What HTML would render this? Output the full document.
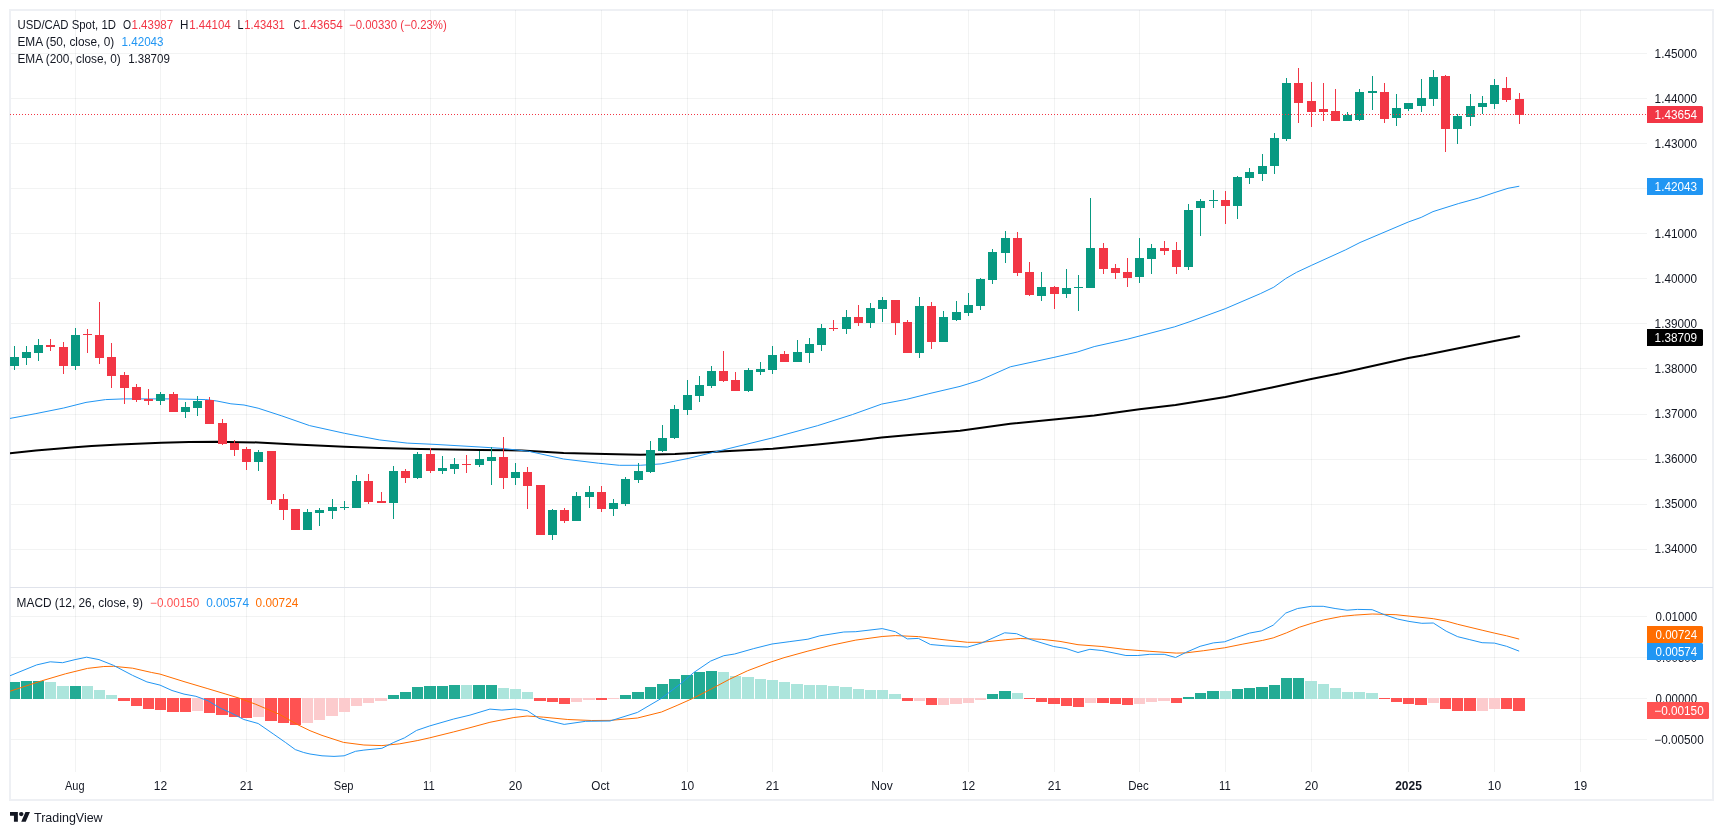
<!DOCTYPE html><html><head><meta charset="utf-8"><title>USD/CAD Spot, 1D</title><style>html,body{margin:0;padding:0;background:#fff;}svg{display:block;}text{font-family:'Liberation Sans', Arial, sans-serif;}</style></head><body>
<svg width="1723" height="835" viewBox="0 0 1723 835" shape-rendering="crispEdges" style="will-change:transform">
<rect x="0" y="0" width="1723" height="835" fill="#fff"/>
<rect x="10" y="10" width="1703" height="790" fill="none" stroke="#EEF0F4" stroke-width="2"/>
<defs><clipPath id="cm"><rect x="10" y="10" width="1637" height="577"/></clipPath><clipPath id="cd"><rect x="10" y="588" width="1637" height="184"/></clipPath></defs>
<path d="M11 53h1636v1h-1636zM11 98h1636v1h-1636zM11 143h1636v1h-1636zM11 188h1636v1h-1636zM11 233h1636v1h-1636zM11 278h1636v1h-1636zM11 323h1636v1h-1636zM11 368h1636v1h-1636zM11 414h1636v1h-1636zM11 459h1636v1h-1636zM11 504h1636v1h-1636zM11 549h1636v1h-1636zM11 616h1636v1h-1636zM11 657h1636v1h-1636zM11 698h1636v1h-1636zM11 739h1636v1h-1636z" fill="rgba(42,46,57,0.06)"/>
<path d="M75 10h1v577h-1zM75 588h1v184h-1zM160 10h1v577h-1zM160 588h1v184h-1zM246 10h1v577h-1zM246 588h1v184h-1zM344 10h1v577h-1zM344 588h1v184h-1zM430 10h1v577h-1zM430 588h1v184h-1zM515 10h1v577h-1zM515 588h1v184h-1zM601 10h1v577h-1zM601 588h1v184h-1zM687 10h1v577h-1zM687 588h1v184h-1zM772 10h1v577h-1zM772 588h1v184h-1zM882 10h1v577h-1zM882 588h1v184h-1zM968 10h1v577h-1zM968 588h1v184h-1zM1054 10h1v577h-1zM1054 588h1v184h-1zM1139 10h1v577h-1zM1139 588h1v184h-1zM1225 10h1v577h-1zM1225 588h1v184h-1zM1311 10h1v577h-1zM1311 588h1v184h-1zM1408 10h1v577h-1zM1408 588h1v184h-1zM1494 10h1v577h-1zM1494 588h1v184h-1zM1580 10h1v577h-1zM1580 588h1v184h-1z" fill="rgba(42,46,57,0.06)"/>
<rect x="10" y="587" width="1703" height="1" fill="#E0E3EB"/>
<g clip-path="url(#cm)">
<path d="M10.1 453.3 L35.9 450.5 L74.9 447.3 L91.6 446.0 L119.4 444.6 L161.2 442.8 L189.1 442.1 L216.9 441.8 L240.0 442.2 L258.1 442.4 L295.7 444.4 L344.5 446.8 L379.3 447.9 L421.1 448.9 L480.0 449.9 L521.8 450.4 L563.6 453.0 L605.4 454.1 L640.2 454.8 L675.0 454.1 L720.0 451.6 L772.9 448.7 L817.5 444.5 L859.3 440.3 L881.6 437.6 L915.0 434.4 L960.0 430.7 L1010.3 423.8 L1053.9 419.4 L1094.2 415.4 L1139.5 409.3 L1150.0 407.9 L1175.5 405.0 L1225.4 396.9 L1271.9 387.6 L1311.3 378.9 L1340.0 373.3 L1408.4 358.0 L1423.8 355.3 L1494.4 341.0 L1519.2 336.2" fill="none" stroke="#000" stroke-width="2" stroke-linejoin="round" stroke-linecap="round" shape-rendering="geometricPrecision"/>
<path d="M10.1 418.4 L35.9 413.6 L63.7 408.0 L86.0 402.4 L105.5 399.6 L123.6 398.9 L147.3 398.9 L175.2 398.9 L205.8 399.6 L216.9 401.0 L230.9 403.8 L244.0 405.0 L258.1 408.2 L281.8 415.9 L309.6 425.6 L344.5 433.3 L379.3 439.9 L407.2 443.1 L435.0 444.4 L480.0 447.0 L500.9 448.3 L528.8 451.3 L563.6 459.0 L598.4 463.2 L619.3 465.3 L640.2 465.3 L661.1 463.9 L688.9 458.3 L720.0 450.7 L772.9 437.8 L817.5 425.7 L852.3 414.6 L881.6 404.1 L906.7 399.3 L928.9 393.7 L960.0 386.4 L980.1 380.2 L1010.3 366.8 L1053.9 357.4 L1077.4 352.0 L1094.2 346.6 L1127.7 339.1 L1174.7 326.8 L1190.0 321.6 L1225.3 308.7 L1260.7 293.5 L1273.8 287.2 L1285.8 278.5 L1296.6 272.3 L1311.6 265.3 L1345.7 249.8 L1360.0 242.5 L1408.3 222.0 L1421.2 217.4 L1433.0 211.6 L1458.7 203.5 L1478.4 198.1 L1494.2 192.7 L1508.0 188.3 L1518.9 186.3" fill="none" stroke="#2196F3" stroke-width="1" stroke-linejoin="round" stroke-linecap="round" shape-rendering="geometricPrecision"/>
<path d="M10 357h9v9h-9zM14 346h1v11h-1zM14 366h1v4h-1zM22 352h9v6h-9zM26 346h1v6h-1zM26 358h1v7h-1zM34 345h9v8h-9zM38 339h1v6h-1zM38 353h1v8h-1zM71 335h9v31h-9zM75 328h1v7h-1zM75 366h1v4h-1zM156 394h9v7h-9zM160 392h1v2h-1zM160 401h1v4h-1zM181 407h9v5h-9zM185 402h1v5h-1zM185 412h1v6h-1zM193 401h9v7h-9zM197 396h1v5h-1zM197 408h1v8h-1zM254 452h9v10h-9zM258 450h1v2h-1zM258 462h1v9h-1zM303 512h9v18h-9zM307 509h1v3h-1zM315 510h9v3h-9zM319 508h1v2h-1zM319 513h1v13h-1zM328 507h9v4h-9zM332 499h1v8h-1zM332 511h1v8h-1zM340 507h9v1h-9zM344 501h1v6h-1zM344 508h1v2h-1zM352 481h9v27h-9zM356 475h1v6h-1zM389 471h9v32h-9zM393 466h1v5h-1zM393 503h1v16h-1zM413 454h9v24h-9zM417 452h1v2h-1zM417 478h1v1h-1zM438 468h9v3h-9zM442 456h1v12h-1zM442 471h1v3h-1zM450 464h9v5h-9zM454 458h1v6h-1zM454 469h1v5h-1zM475 459h9v6h-9zM479 451h1v8h-1zM479 465h1v2h-1zM487 457h9v4h-9zM491 447h1v10h-1zM491 461h1v24h-1zM511 472h9v6h-9zM515 463h1v9h-1zM515 478h1v7h-1zM548 510h9v25h-9zM552 509h1v1h-1zM552 535h1v5h-1zM572 496h9v25h-9zM576 492h1v4h-1zM585 492h9v5h-9zM589 486h1v6h-1zM589 497h1v11h-1zM609 503h9v6h-9zM613 499h1v4h-1zM613 509h1v7h-1zM621 479h9v25h-9zM625 477h1v2h-1zM625 504h1v2h-1zM634 471h9v9h-9zM638 463h1v8h-1zM638 480h1v3h-1zM646 450h9v22h-9zM650 441h1v9h-1zM650 472h1v1h-1zM658 438h9v13h-9zM662 425h1v13h-1zM662 451h1v1h-1zM670 409h9v29h-9zM674 405h1v4h-1zM674 438h1v1h-1zM683 395h9v15h-9zM687 380h1v15h-1zM687 410h1v5h-1zM695 385h9v11h-9zM699 376h1v9h-1zM699 396h1v6h-1zM707 371h9v15h-9zM711 366h1v5h-1zM711 386h1v2h-1zM744 370h9v21h-9zM748 368h1v2h-1zM748 391h1v1h-1zM756 369h9v3h-9zM760 362h1v7h-1zM760 372h1v3h-1zM768 355h9v15h-9zM772 346h1v9h-1zM772 370h1v4h-1zM793 352h9v10h-9zM797 340h1v12h-1zM805 344h9v9h-9zM809 338h1v6h-1zM809 353h1v10h-1zM817 328h9v17h-9zM821 324h1v4h-1zM821 345h1v6h-1zM842 317h9v12h-9zM846 310h1v7h-1zM846 329h1v5h-1zM866 308h9v15h-9zM870 303h1v5h-1zM870 323h1v5h-1zM878 300h9v9h-9zM882 297h1v3h-1zM882 309h1v13h-1zM915 306h9v47h-9zM919 297h1v9h-1zM919 353h1v5h-1zM939 317h9v25h-9zM943 311h1v6h-1zM952 312h9v8h-9zM956 301h1v11h-1zM956 320h1v1h-1zM964 305h9v8h-9zM968 293h1v12h-1zM968 313h1v3h-1zM976 279h9v27h-9zM980 278h1v1h-1zM980 306h1v4h-1zM988 252h9v28h-9zM992 249h1v3h-1zM992 280h1v4h-1zM1001 238h9v15h-9zM1005 231h1v7h-1zM1005 253h1v10h-1zM1037 287h9v9h-9zM1041 272h1v15h-1zM1041 296h1v5h-1zM1062 288h9v6h-9zM1066 269h1v19h-1zM1066 294h1v4h-1zM1074 287h9v1h-9zM1078 275h1v12h-1zM1078 288h1v23h-1zM1086 248h9v40h-9zM1090 198h1v50h-1zM1135 258h9v19h-9zM1139 238h1v20h-1zM1139 277h1v6h-1zM1147 248h9v11h-9zM1151 244h1v4h-1zM1151 259h1v15h-1zM1184 210h9v57h-9zM1188 204h1v6h-1zM1188 267h1v3h-1zM1196 201h9v7h-9zM1200 199h1v2h-1zM1200 208h1v28h-1zM1209 200h9v1h-9zM1213 190h1v10h-1zM1213 201h1v7h-1zM1233 177h9v29h-9zM1237 176h1v1h-1zM1237 206h1v13h-1zM1245 172h9v6h-9zM1249 168h1v4h-1zM1249 178h1v6h-1zM1258 166h9v8h-9zM1262 154h1v12h-1zM1262 174h1v7h-1zM1270 138h9v28h-9zM1274 133h1v5h-1zM1274 166h1v8h-1zM1282 83h9v56h-9zM1286 78h1v5h-1zM1286 139h1v2h-1zM1343 115h9v6h-9zM1347 112h1v3h-1zM1355 92h9v28h-9zM1359 89h1v3h-1zM1359 120h1v1h-1zM1368 91h9v2h-9zM1372 76h1v15h-1zM1372 93h1v17h-1zM1392 108h9v10h-9zM1396 94h1v14h-1zM1396 118h1v8h-1zM1404 103h9v6h-9zM1408 109h1v2h-1zM1417 98h9v8h-9zM1421 79h1v19h-1zM1421 106h1v6h-1zM1429 77h9v22h-9zM1433 70h1v7h-1zM1433 99h1v7h-1zM1453 116h9v13h-9zM1457 114h1v2h-1zM1457 129h1v15h-1zM1466 106h9v11h-9zM1470 94h1v12h-1zM1470 117h1v9h-1zM1478 103h9v4h-9zM1482 96h1v7h-1zM1482 107h1v7h-1zM1490 85h9v19h-9zM1494 79h1v6h-1zM1494 104h1v5h-1z" fill="#089981"/>
<path d="M46 345h9v2h-9zM50 339h1v6h-1zM50 347h1v4h-1zM59 347h9v19h-9zM63 342h1v5h-1zM63 366h1v8h-1zM83 334h9v1h-9zM87 329h1v5h-1zM87 335h1v18h-1zM95 335h9v23h-9zM99 302h1v33h-1zM99 358h1v6h-1zM107 357h9v19h-9zM111 343h1v14h-1zM111 376h1v12h-1zM120 375h9v13h-9zM124 372h1v3h-1zM124 388h1v16h-1zM132 387h9v13h-9zM136 384h1v3h-1zM136 400h1v2h-1zM144 399h9v2h-9zM148 389h1v10h-1zM148 401h1v4h-1zM169 394h9v18h-9zM173 392h1v2h-1zM205 400h9v24h-9zM209 397h1v3h-1zM218 423h9v21h-9zM222 419h1v4h-1zM222 444h1v1h-1zM230 443h9v7h-9zM234 440h1v3h-1zM234 450h1v6h-1zM242 449h9v13h-9zM246 447h1v2h-1zM246 462h1v8h-1zM267 451h9v49h-9zM271 500h1v4h-1zM279 499h9v11h-9zM283 494h1v5h-1zM283 510h1v10h-1zM291 509h9v21h-9zM364 481h9v21h-9zM368 474h1v7h-1zM368 502h1v2h-1zM377 501h9v2h-9zM381 492h1v9h-1zM401 471h9v7h-9zM405 469h1v2h-1zM405 478h1v5h-1zM426 454h9v17h-9zM430 448h1v6h-1zM430 471h1v2h-1zM462 464h9v1h-9zM466 455h1v9h-1zM466 465h1v8h-1zM499 457h9v21h-9zM503 437h1v20h-1zM503 478h1v11h-1zM523 472h9v14h-9zM527 467h1v5h-1zM527 486h1v23h-1zM536 485h9v50h-9zM560 510h9v11h-9zM564 508h1v2h-1zM564 521h1v2h-1zM597 492h9v17h-9zM601 486h1v6h-1zM601 509h1v3h-1zM719 371h9v10h-9zM723 351h1v20h-1zM723 381h1v1h-1zM731 380h9v11h-9zM735 372h1v8h-1zM780 354h9v8h-9zM784 351h1v3h-1zM829 328h9v1h-9zM833 320h1v8h-1zM833 329h1v2h-1zM854 317h9v6h-9zM858 305h1v12h-1zM858 323h1v3h-1zM891 300h9v23h-9zM895 323h1v12h-1zM903 322h9v31h-9zM907 320h1v2h-1zM927 306h9v36h-9zM931 302h1v4h-1zM931 342h1v7h-1zM1013 238h9v35h-9zM1017 232h1v6h-1zM1017 273h1v3h-1zM1025 272h9v23h-9zM1029 262h1v10h-1zM1029 295h1v1h-1zM1050 287h9v7h-9zM1054 286h1v1h-1zM1054 294h1v15h-1zM1099 248h9v21h-9zM1103 243h1v5h-1zM1103 269h1v5h-1zM1111 268h9v5h-9zM1115 264h1v4h-1zM1115 273h1v6h-1zM1123 272h9v6h-9zM1127 258h1v14h-1zM1127 278h1v9h-1zM1160 248h9v3h-9zM1164 241h1v7h-1zM1164 251h1v4h-1zM1172 250h9v17h-9zM1176 242h1v8h-1zM1176 267h1v7h-1zM1221 200h9v6h-9zM1225 191h1v9h-1zM1225 206h1v18h-1zM1294 83h9v20h-9zM1298 68h1v15h-1zM1298 103h1v20h-1zM1307 101h9v11h-9zM1311 82h1v19h-1zM1311 112h1v15h-1zM1319 109h9v3h-9zM1323 83h1v26h-1zM1323 112h1v9h-1zM1331 111h9v10h-9zM1335 89h1v22h-1zM1380 92h9v27h-9zM1384 83h1v9h-1zM1384 119h1v4h-1zM1441 76h9v53h-9zM1445 75h1v1h-1zM1445 129h1v23h-1zM1502 88h9v12h-9zM1506 77h1v11h-1zM1506 100h1v2h-1zM1515 99h9v16h-9zM1519 93h1v6h-1zM1519 115h1v9h-1z" fill="#F23645"/>
<path d="M10 114.5H1647" stroke="#F23645" stroke-width="1" stroke-dasharray="1 2" fill="none"/>
</g><g clip-path="url(#cd)">
<path d="M10 682H20V699H10zM21 681H32V699H21zM33 681H44V699H33zM70 686H81V699H70zM388 695H399V699H388zM400 692H411V699H400zM412 687H423V699H412zM424 686H436V699H424zM437 686H448V699H437zM449 685H460V699H449zM473 685H485V699H473zM486 685H497V699H486zM620 695H631V699H620zM632 692H644V699H632zM645 687H656V699H645zM657 684H668V699H657zM669 679H680V699H669zM681 675H693V699H681zM694 672H705V699H694zM706 671H717V699H706zM987 694H998V699H987zM999 691H1011V699H999zM1183 697H1194V699H1183zM1195 693H1206V699H1195zM1207 691H1219V699H1207zM1232 689H1243V699H1232zM1244 688H1255V699H1244zM1256 687H1268V699H1256zM1269 685H1280V699H1269zM1281 678H1292V699H1281zM1293 678H1304V699H1293z" fill="#22AB94"/>
<path d="M45 682H56V699H45zM57 686H69V699H57zM82 686H93V699H82zM94 690H105V699H94zM106 695H117V699H106zM461 685H472V699H461zM498 688H509V699H498zM510 689H521V699H510zM522 692H533V699H522zM718 672H729V699H718zM730 676H741V699H730zM742 677H754V699H742zM755 679H766V699H755zM767 680H778V699H767zM779 682H790V699H779zM791 684H803V699H791zM804 685H815V699H804zM816 685H827V699H816zM828 686H839V699H828zM840 687H852V699H840zM853 689H864V699H853zM865 690H876V699H865zM877 690H888V699H877zM889 694H901V699H889zM1012 693H1023V699H1012zM1220 691H1231V699H1220zM1305 681H1317V699H1305zM1318 684H1329V699H1318zM1330 688H1341V699H1330zM1342 692H1353V699H1342zM1354 692H1365V699H1354zM1366 693H1378V699H1366z" fill="#ACE5DC"/>
<path d="M118 698H130V701H118zM131 698H142V706H131zM143 698H154V709H143zM155 698H166V710H155zM167 698H179V712H167zM180 698H191V712H180zM204 698H215V713H204zM216 698H228V715H216zM229 698H240V717H229zM241 698H252V718H241zM265 698H277V721H265zM278 698H289V723H278zM290 698H301V725H290zM534 698H546V701H534zM547 698H558V702H547zM559 698H570V704H559zM596 698H607V700H596zM902 698H913V701H902zM926 698H937V705H926zM1024 698H1035V699H1024zM1036 698H1047V702H1036zM1048 698H1060V704H1048zM1061 698H1072V706H1061zM1073 698H1084V707H1073zM1097 698H1109V703H1097zM1110 698H1121V704H1110zM1122 698H1133V705H1122zM1171 698H1182V703H1171zM1379 698H1390V699H1379zM1391 698H1402V702H1391zM1403 698H1414V704H1403zM1415 698H1427V705H1415zM1440 698H1451V709H1440zM1452 698H1463V711H1452zM1464 698H1476V711H1464zM1501 698H1512V709H1501zM1513 698H1525V711H1513z" fill="#FF5252"/>
<path d="M192 698H203V711H192zM253 698H264V717H253zM302 698H313V723H302zM314 698H325V720H314zM326 698H338V716H326zM339 698H350V712H339zM351 698H362V706H351zM363 698H374V703H363zM375 698H387V701H375zM571 698H582V702H571zM583 698H595V700H583zM608 698H619V699H608zM914 698H925V701H914zM938 698H949V705H938zM950 698H962V704H950zM963 698H974V703H963zM975 698H986V700H975zM1085 698H1096V703H1085zM1134 698H1145V704H1134zM1146 698H1157V702H1146zM1158 698H1170V701H1158zM1428 698H1439V703H1428zM1477 698H1488V711H1477zM1489 698H1500V709H1489z" fill="#FCCBCD"/>
<path d="M10.1 691.2 L41.5 680.9 L65.5 673.8 L87.5 668.4 L103.8 666.5 L113.4 666.3 L132.6 668.2 L151.7 672.5 L160.0 674.1 L184.0 681.6 L207.9 688.7 L225.9 694.1 L239.0 698.1 L255.8 704.3 L279.8 714.5 L297.7 724.7 L310.0 730.7 L322.0 735.4 L343.5 742.4 L363.9 745.0 L381.9 745.6 L399.8 743.8 L417.8 740.5 L429.8 737.8 L453.7 731.9 L470.0 727.7 L489.9 722.3 L513.9 717.5 L527.1 716.0 L543.8 717.2 L567.8 719.5 L591.7 720.5 L610.0 720.4 L637.5 718.0 L661.5 712.0 L677.1 705.4 L692.6 698.5 L711.8 688.7 L729.8 679.1 L747.7 670.7 L770.0 662.3 L784.0 657.7 L807.9 651.1 L831.9 645.1 L855.8 640.1 L882.2 636.5 L895.3 635.6 L918.4 636.6 L939.9 639.3 L967.5 642.3 L981.9 642.3 L1005.8 639.7 L1020.2 638.5 L1041.7 639.3 L1060.0 641.4 L1078.0 644.7 L1101.9 646.5 L1125.9 649.5 L1149.8 651.3 L1176.2 653.1 L1185.7 652.9 L1203.7 650.7 L1224.5 647.8 L1242.9 644.1 L1262.7 640.4 L1273.2 637.9 L1286.4 632.9 L1299.5 627.2 L1311.4 623.4 L1323.2 620.0 L1341.7 616.4 L1354.8 615.1 L1372.2 614.0 L1395.9 614.7 L1408.9 616.1 L1433.3 618.7 L1446.2 621.1 L1457.7 624.3 L1482.1 630.2 L1494.4 633.1 L1506.6 635.8 L1518.8 639.0" fill="none" stroke="#FF6D00" stroke-width="1" stroke-linejoin="round" stroke-linecap="round" shape-rendering="geometricPrecision"/>
<path d="M10.1 675.7 L36.7 664.9 L50.2 661.8 L62.6 662.7 L75.1 659.6 L86.6 657.2 L99.0 659.6 L113.4 665.3 L132.6 675.4 L146.9 681.9 L160.0 685.1 L172.0 690.5 L184.0 694.1 L195.9 696.3 L207.9 700.7 L219.9 707.9 L231.9 713.3 L243.8 719.5 L258.2 723.5 L273.8 734.3 L285.7 742.6 L295.3 749.6 L303.7 752.5 L310.0 754.0 L322.0 755.8 L334.0 756.4 L344.1 755.8 L355.5 751.3 L363.9 750.1 L381.9 748.3 L393.8 742.4 L404.6 737.8 L416.6 730.4 L429.8 725.9 L453.7 719.0 L470.0 715.1 L489.9 709.1 L501.9 710.1 L515.1 709.1 L527.1 710.5 L539.0 718.4 L564.2 724.4 L585.7 721.3 L610.0 721.0 L637.5 712.4 L661.5 698.3 L681.9 682.7 L693.8 672.5 L710.6 661.1 L723.8 655.7 L734.6 654.0 L753.7 648.6 L772.0 644.0 L789.9 641.6 L807.9 639.2 L819.9 635.8 L843.8 632.0 L855.8 631.7 L882.2 628.6 L895.3 631.7 L907.3 638.9 L918.4 638.4 L930.4 644.5 L945.9 645.9 L967.5 647.1 L981.9 642.9 L1004.6 632.8 L1016.6 633.7 L1029.8 639.3 L1053.7 646.5 L1066.0 648.5 L1078.0 652.5 L1089.9 649.3 L1101.9 650.5 L1125.9 655.5 L1137.8 655.5 L1149.8 654.3 L1164.2 654.3 L1175.6 657.5 L1185.7 652.5 L1200.1 646.3 L1213.3 642.9 L1224.5 641.8 L1236.3 637.5 L1249.5 633.1 L1261.4 630.9 L1273.2 625.2 L1285.7 613.1 L1297.6 608.5 L1311.4 606.3 L1323.2 606.3 L1335.1 608.5 L1347.0 610.2 L1357.5 609.4 L1372.2 609.7 L1384.4 614.7 L1397.4 619.0 L1408.9 621.4 L1421.8 623.3 L1433.3 623.0 L1446.2 631.2 L1457.7 636.7 L1469.2 639.5 L1482.1 642.7 L1494.4 643.1 L1506.6 646.3 L1518.8 651.0" fill="none" stroke="#2196F3" stroke-width="1" stroke-linejoin="round" stroke-linecap="round" shape-rendering="geometricPrecision"/>
</g>
<g shape-rendering="geometricPrecision">
<text x="1654.62" y="58.0" fill="#131722" font-size="12" text-anchor="start"  textLength="42.46" lengthAdjust="spacingAndGlyphs">1.45000</text>
<text x="1654.62" y="103.0" fill="#131722" font-size="12" text-anchor="start"  textLength="42.46" lengthAdjust="spacingAndGlyphs">1.44000</text>
<text x="1654.62" y="148.0" fill="#131722" font-size="12" text-anchor="start"  textLength="42.46" lengthAdjust="spacingAndGlyphs">1.43000</text>
<text x="1654.62" y="193.0" fill="#131722" font-size="12" text-anchor="start"  textLength="42.46" lengthAdjust="spacingAndGlyphs">1.42000</text>
<text x="1654.62" y="238.0" fill="#131722" font-size="12" text-anchor="start"  textLength="42.46" lengthAdjust="spacingAndGlyphs">1.41000</text>
<text x="1654.62" y="283.0" fill="#131722" font-size="12" text-anchor="start"  textLength="42.46" lengthAdjust="spacingAndGlyphs">1.40000</text>
<text x="1654.62" y="328.0" fill="#131722" font-size="12" text-anchor="start"  textLength="42.46" lengthAdjust="spacingAndGlyphs">1.39000</text>
<text x="1654.62" y="373.0" fill="#131722" font-size="12" text-anchor="start"  textLength="42.46" lengthAdjust="spacingAndGlyphs">1.38000</text>
<text x="1654.62" y="418.0" fill="#131722" font-size="12" text-anchor="start"  textLength="42.46" lengthAdjust="spacingAndGlyphs">1.37000</text>
<text x="1654.62" y="463.0" fill="#131722" font-size="12" text-anchor="start"  textLength="42.46" lengthAdjust="spacingAndGlyphs">1.36000</text>
<text x="1654.62" y="508.0" fill="#131722" font-size="12" text-anchor="start"  textLength="42.46" lengthAdjust="spacingAndGlyphs">1.35000</text>
<text x="1654.62" y="553.0" fill="#131722" font-size="12" text-anchor="start"  textLength="42.46" lengthAdjust="spacingAndGlyphs">1.34000</text>
<text x="1655.60" y="621.1" fill="#131722" font-size="12" text-anchor="start"  textLength="41.47" lengthAdjust="spacingAndGlyphs">0.01000</text>
<text x="1655.60" y="662.0" fill="#131722" font-size="12" text-anchor="start"  textLength="41.47" lengthAdjust="spacingAndGlyphs">0.00500</text>
<text x="1655.60" y="702.9" fill="#131722" font-size="12" text-anchor="start"  textLength="41.47" lengthAdjust="spacingAndGlyphs">0.00000</text>
<text x="1654.32" y="743.9" fill="#131722" font-size="12" text-anchor="start"  textLength="49.36" lengthAdjust="spacingAndGlyphs">−0.00500</text>
<path d="M1647 106H1701.5Q1703 106 1703 107.5V121.5Q1703 123 1701.5 123H1647z" fill="#F23645"/>
<text x="1654.62" y="119.1" fill="#fff" font-size="12" text-anchor="start"  textLength="42.46" lengthAdjust="spacingAndGlyphs">1.43654</text>
<path d="M1647 178H1701.5Q1703 178 1703 179.5V193.5Q1703 195 1701.5 195H1647z" fill="#2196F3"/>
<text x="1654.62" y="191.1" fill="#fff" font-size="12" text-anchor="start"  textLength="42.46" lengthAdjust="spacingAndGlyphs">1.42043</text>
<path d="M1647 329H1701.5Q1703 329 1703 330.5V344.5Q1703 346 1701.5 346H1647z" fill="#000"/>
<text x="1654.62" y="342.1" fill="#fff" font-size="12" text-anchor="start"  textLength="42.46" lengthAdjust="spacingAndGlyphs">1.38709</text>
<path d="M1647 626H1701.5Q1703 626 1703 627.5V641.5Q1703 643 1701.5 643H1647z" fill="#FF6D00"/>
<text x="1655.60" y="639.1" fill="#fff" font-size="12" text-anchor="start"  textLength="41.47" lengthAdjust="spacingAndGlyphs">0.00724</text>
<path d="M1647 643H1701.5Q1703 643 1703 644.5V658.5Q1703 660 1701.5 660H1647z" fill="#2196F3"/>
<text x="1655.60" y="656.1" fill="#fff" font-size="12" text-anchor="start"  textLength="41.47" lengthAdjust="spacingAndGlyphs">0.00574</text>
<path d="M1647 702H1707.5Q1709 702 1709 703.5V717.5Q1709 719 1707.5 719H1647z" fill="#FF5252"/>
<text x="1654.32" y="715.1" fill="#fff" font-size="12" text-anchor="start"  textLength="49.36" lengthAdjust="spacingAndGlyphs">−0.00150</text>
<text x="17.45" y="29.0" fill="#131722" font-size="12" text-anchor="start"  textLength="98.49" lengthAdjust="spacingAndGlyphs">USD/CAD Spot, 1D</text>
<text x="123.10" y="29.0" fill="#131722" font-size="12" text-anchor="start"  textLength="8.10" lengthAdjust="spacingAndGlyphs">O</text>
<text x="131.54" y="29.0" fill="#F23645" font-size="12" text-anchor="start"  textLength="41.53" lengthAdjust="spacingAndGlyphs">1.43987</text>
<text x="180.03" y="29.0" fill="#131722" font-size="12" text-anchor="start"  textLength="8.42" lengthAdjust="spacingAndGlyphs">H</text>
<text x="189.24" y="29.0" fill="#F23645" font-size="12" text-anchor="start"  textLength="41.53" lengthAdjust="spacingAndGlyphs">1.44104</text>
<text x="237.40" y="29.0" fill="#131722" font-size="12" text-anchor="start"  textLength="6.02" lengthAdjust="spacingAndGlyphs">L</text>
<text x="244.37" y="29.0" fill="#F23645" font-size="12" text-anchor="start"  textLength="40.50" lengthAdjust="spacingAndGlyphs">1.43431</text>
<text x="293.40" y="29.0" fill="#131722" font-size="12" text-anchor="start"  textLength="6.94" lengthAdjust="spacingAndGlyphs">C</text>
<text x="300.42" y="29.0" fill="#F23645" font-size="12" text-anchor="start"  textLength="42.36" lengthAdjust="spacingAndGlyphs">1.43654</text>
<text x="349.05" y="29.0" fill="#F23645" font-size="12" text-anchor="start"  textLength="97.77" lengthAdjust="spacingAndGlyphs">−0.00330 (−0.23%)</text>
<text x="17.41" y="45.9" fill="#131722" font-size="12" text-anchor="start"  textLength="96.83" lengthAdjust="spacingAndGlyphs">EMA (50, close, 0)</text>
<text x="121.53" y="45.9" fill="#2196F3" font-size="12" text-anchor="start"  textLength="42.05" lengthAdjust="spacingAndGlyphs">1.42043</text>
<text x="17.41" y="62.5" fill="#131722" font-size="12" text-anchor="start"  textLength="103.30" lengthAdjust="spacingAndGlyphs">EMA (200, close, 0)</text>
<text x="128.14" y="62.5" fill="#131722" font-size="12" text-anchor="start"  textLength="41.74" lengthAdjust="spacingAndGlyphs">1.38709</text>
<text x="16.61" y="606.7" fill="#131722" font-size="12" text-anchor="start"  textLength="126.43" lengthAdjust="spacingAndGlyphs">MACD (12, 26, close, 9)</text>
<text x="150.12" y="606.7" fill="#FF5252" font-size="12" text-anchor="start"  textLength="49.26" lengthAdjust="spacingAndGlyphs">−0.00150</text>
<text x="206.20" y="606.7" fill="#2196F3" font-size="12" text-anchor="start"  textLength="42.79" lengthAdjust="spacingAndGlyphs">0.00574</text>
<text x="255.60" y="606.7" fill="#FF6D00" font-size="12" text-anchor="start"  textLength="42.68" lengthAdjust="spacingAndGlyphs">0.00724</text>
<text x="34.00" y="821.8" fill="#131722" font-size="12.6" text-anchor="start"  textLength="68.62" lengthAdjust="spacingAndGlyphs">TradingView</text>
<text x="65.00" y="789.6" fill="#131722" font-size="12" text-anchor="start"  textLength="19.53" lengthAdjust="spacingAndGlyphs">Aug</text>
<text x="333.77" y="789.6" fill="#131722" font-size="12" text-anchor="start"  textLength="19.76" lengthAdjust="spacingAndGlyphs">Sep</text>
<text x="591.30" y="789.6" fill="#131722" font-size="12" text-anchor="start"  textLength="18.18" lengthAdjust="spacingAndGlyphs">Oct</text>
<text x="871.29" y="789.6" fill="#131722" font-size="12" text-anchor="start"  textLength="21.56" lengthAdjust="spacingAndGlyphs">Nov</text>
<text x="1128.35" y="789.6" fill="#131722" font-size="12" text-anchor="start"  textLength="20.38" lengthAdjust="spacingAndGlyphs">Dec</text>
<text x="423.06" y="789.6" fill="#131722" font-size="12" text-anchor="start"  textLength="11.68" lengthAdjust="spacingAndGlyphs">11</text>
<text x="1219.06" y="789.6" fill="#131722" font-size="12" text-anchor="start"  textLength="11.68" lengthAdjust="spacingAndGlyphs">11</text>
<text x="160.50" y="789.6" fill="#131722" font-size="12" text-anchor="middle" >12</text>
<text x="246.50" y="789.6" fill="#131722" font-size="12" text-anchor="middle" >21</text>
<text x="515.50" y="789.6" fill="#131722" font-size="12" text-anchor="middle" >20</text>
<text x="687.50" y="789.6" fill="#131722" font-size="12" text-anchor="middle" >10</text>
<text x="772.50" y="789.6" fill="#131722" font-size="12" text-anchor="middle" >21</text>
<text x="968.50" y="789.6" fill="#131722" font-size="12" text-anchor="middle" >12</text>
<text x="1054.50" y="789.6" fill="#131722" font-size="12" text-anchor="middle" >21</text>
<text x="1311.50" y="789.6" fill="#131722" font-size="12" text-anchor="middle" >20</text>
<text x="1408.50" y="789.6" fill="#131722" font-size="12" text-anchor="middle" font-weight="bold">2025</text>
<text x="1494.50" y="789.6" fill="#131722" font-size="12" text-anchor="middle" >10</text>
<text x="1580.50" y="789.6" fill="#131722" font-size="12" text-anchor="middle" >19</text>
<g transform="translate(10 809.8) scale(0.562 0.54)" fill="#131722"><path d="M14 22H7V11H0V4h14v18zM28 22h-8l7.5-18h8L28 22z"/><circle cx="20" cy="8" r="4"/></g>
</g>
</svg></body></html>
